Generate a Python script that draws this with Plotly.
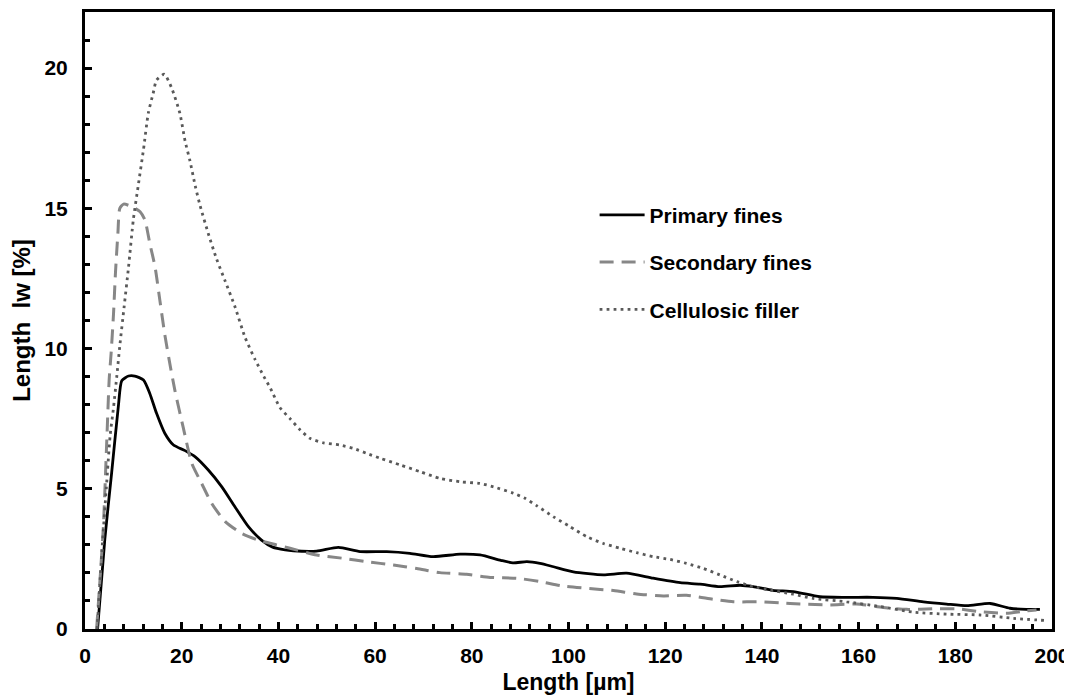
import plotly.graph_objects as go

# Primary fines
primary_x = [2.6, 4.1, 5.5, 6.9, 7.6, 9.0, 10.3, 12.1, 13.4, 14.8, 16.5, 18.3, 20.7, 22.8, 25.5, 28.3, 31.0,
             33.8, 36.5, 38.8, 41.4, 43.1, 47.9, 52.4, 56.9, 62.4, 67.2, 72.0, 77.6, 81.7, 86.0, 88.5, 91.4,
             94.1, 96.9, 101.0, 107.2, 112.0, 117.5, 123.1, 127.2, 131.3, 135.5, 138.2, 142.3, 146.5, 152.0,
             157.5, 163.0, 167.9, 173.4, 178.2, 182.4, 187.2, 191.3, 194.7, 197.5]
primary_y = [0.0, 3.2, 5.55, 7.95, 8.85, 9.02, 9.02, 8.88, 8.40, 7.69, 6.98, 6.56, 6.36, 6.14, 5.67, 5.07, 4.36,
             3.65, 3.17, 2.92, 2.82, 2.79, 2.78, 2.91, 2.76, 2.76, 2.70, 2.58, 2.67, 2.64, 2.45, 2.36, 2.40,
             2.34, 2.22, 2.04, 1.93, 1.99, 1.81, 1.65, 1.60, 1.51, 1.56, 1.51, 1.38, 1.33, 1.15,
             1.13, 1.13, 1.09, 0.97, 0.89, 0.83, 0.91, 0.74, 0.70, 0.70]

# Secondary fines
secondary_x = [2.4, 3.1, 3.8, 4.5, 5.0, 5.4, 5.9, 6.3, 6.8, 7.2, 8.0, 9.8, 11.4, 12.4, 13.4, 14.5, 15.5, 16.5,
               17.4, 18.6, 20.3, 22.1, 24.1, 26.2, 29.0, 32.4, 35.8, 39.6, 42.4, 47.9, 53.4, 58.3, 63.8, 68.6,
               73.4, 78.9, 83.8, 89.3, 94.1, 98.9, 103.8, 109.3, 114.1, 119.6, 124.4, 129.9, 134.1, 139.6,
               143.7, 147.9, 154.1, 159.6, 165.1, 169.9, 175.5, 180.3, 185.1, 190.6, 194.7, 196.8]
secondary_y = [0.0, 1.75, 3.65, 6.7, 8.9, 9.83, 11.25, 12.7, 14.1, 15.0, 15.15, 15.05, 14.88, 14.58, 13.75, 12.9,
               11.7, 10.5, 9.6, 8.5, 7.2, 5.9, 5.2, 4.48, 3.83, 3.41, 3.17, 3.0, 2.88, 2.64, 2.52, 2.40, 2.28,
               2.16, 2.01, 1.95, 1.84, 1.81, 1.69, 1.53, 1.45, 1.37, 1.25, 1.18, 1.20, 1.06, 0.97, 0.97,
               0.93, 0.89, 0.86, 0.89, 0.77, 0.70, 0.72, 0.72, 0.62, 0.56, 0.65, 0.68]

# Cellulosic filler
filler_x = [2.5, 3.5, 4.4, 5.2, 5.9, 6.6, 7.2, 8.1, 9.0, 10.0, 11.0, 12.1, 13.1, 14.1, 14.8, 16.4, 17.9, 19.6,
            20.7, 21.7, 22.8, 23.8, 25.5, 27.2, 29.0, 31.0, 33.1, 35.2, 37.0, 38.3, 40.3, 42.4, 44.5, 46.5,
            49.3, 52.7, 55.5, 58.3, 61.0, 65.2, 69.3, 73.4, 77.6, 81.7, 84.5, 88.6, 91.0, 93.4, 96.9, 100.3,
            103.8, 107.2, 110.7, 114.1, 117.5, 121.0, 124.4, 127.9, 131.3, 134.8, 138.2, 141.7, 146.5, 150.6,
            157.5, 164.4, 171.3, 178.2, 185.1, 192.0, 198.9]
filler_y = [0.0, 2.8, 5.0, 6.9, 7.9, 9.05, 10.1, 11.5, 12.9, 14.6, 15.8, 17.1, 18.4, 19.1, 19.57, 19.78, 19.3, 18.4,
            17.4, 16.7, 15.8, 15.1, 14.1, 13.2, 12.4, 11.5, 10.4, 9.6, 9.0, 8.6, 7.9, 7.5, 7.1, 6.8,
            6.64, 6.56, 6.44, 6.26, 6.09, 5.85, 5.61, 5.37, 5.25, 5.19, 5.07, 4.84, 4.66, 4.40, 4.0, 3.65,
            3.29, 3.05, 2.88, 2.72, 2.58, 2.48, 2.34, 2.16, 1.93, 1.69, 1.51, 1.39, 1.24, 1.09,
            0.97, 0.80, 0.60, 0.53, 0.50, 0.38, 0.30]

x_ticks = [0, 20, 40, 60, 80, 100, 120, 140, 160, 180, 200]
y_ticks = [0, 5, 10, 15, 20]

FONT = "Liberation Sans, Arial, sans-serif"

fig = go.Figure()
fig.add_trace(go.Scatter(x=primary_x, y=primary_y, mode="lines", name="<b>Primary fines</b>",
                         legendgroup="a", line=dict(color="#000000", width=2.8, shape="spline", smoothing=0.6)))
fig.add_trace(go.Scatter(x=secondary_x, y=secondary_y, mode="lines", name="<b>Secondary fines</b>",
                         legendgroup="b", line=dict(color="#878787", width=3, dash="14px,8px", shape="spline", smoothing=0.6)))
fig.add_trace(go.Scatter(x=filler_x, y=filler_y, mode="lines", name="<b>Cellulosic filler</b>",
                         legendgroup="c", line=dict(color="#595959", width=2.8, dash="2.8px,4.2px", shape="spline", smoothing=0.6)))

axis_common = dict(showline=True, linecolor="#000000", linewidth=3, mirror=True, showgrid=False, zeroline=False,
                   automargin=False,
                   ticks="inside", tickcolor="#000000", tickwidth=2.5, ticklen=7,
                   tickfont=dict(family=FONT, size=21, color="#000000", weight="bold"))

fig.update_xaxes(range=[0, 200], tickvals=x_ticks, ticktext=[f"<b>{v}</b>" for v in x_ticks],
                 ticklabelstandoff=6,
                 minor=dict(ticks="inside", dtick=4, tick0=0, ticklen=5, tickwidth=2.5, tickcolor="#000000"),
                 title=dict(text="<b>Length [µm]</b>", font=dict(family=FONT, size=23, color="#000000"), standoff=8),
                 **axis_common)
fig.update_yaxes(range=[0, 22], tickvals=y_ticks, ticktext=[f"<b>{v}</b>" for v in y_ticks],
                 ticklabelstandoff=10,
                 minor=dict(ticks="inside", dtick=1, tick0=0, ticklen=5, tickwidth=2.5, tickcolor="#000000"),
                 title=dict(text="<b>Length\u00a0 lw [%]</b>", font=dict(family=FONT, size=24, color="#000000"), standoff=8),
                 **axis_common)

fig.update_layout(
    width=1064, height=688,
    margin=dict(l=77, r=20, t=4, b=67),
    plot_bgcolor="#ffffff", paper_bgcolor="#ffffff",
    font=dict(family=FONT, size=21, color="#000000"),
    legend=dict(x=0.527, y=0.704, xanchor="left", yanchor="top", bgcolor="rgba(0,0,0,0)",
                font=dict(family=FONT, size=21, color="#000000"), traceorder="grouped", tracegroupgap=17,
                itemwidth=45),
    showlegend=True,
)

fig.write_html("out.html")
